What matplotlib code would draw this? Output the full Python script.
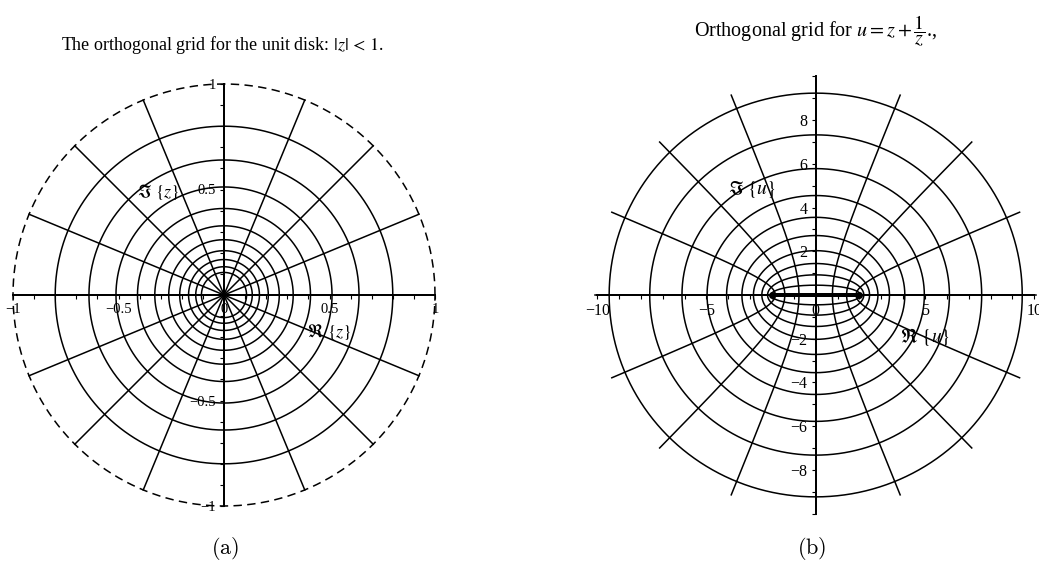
import numpy as np
import matplotlib
matplotlib.use("Agg")
import matplotlib.pyplot as plt
from matplotlib.ticker import FixedLocator, FixedFormatter, MultipleLocator

# Radii of the concentric circles |z| = r inside the unit disk
circle_radii = [0.8, 0.64, 0.512, 0.41, 0.328, 0.262, 0.21, 0.168, 0.134, 0.107]
# Directions of the rays arg z = theta (degrees)
ray_angles_deg = [0, 22.5, 45, 67.5, 90, 112.5, 135, 157.5,
                  180, 202.5, 225, 247.5, 270, 292.5, 315, 337.5]
ray_r_start_disk = 0.0
ray_r_start_image = 0.1
boundary_radius = 1.0

disk_xticks = [-1, -0.5, 0, 0.5, 1]
disk_xticklabels = ["\u22121", "\u22120.5", "0", "0.5", "1"]
disk_yticks = [-1, -0.5, 0.5, 1]
disk_yticklabels = ["\u22121", "\u22120.5", "0.5", "1"]

image_xticks = [-10, -5, 0, 5, 10]
image_xticklabels = ["\u221210", "\u22125", "0", "5", "10"]
image_yticks = [-8, -6, -4, -2, 2, 4, 6, 8]
image_yticklabels = ["\u22128", "\u22126", "\u22124", "\u22122", "2", "4", "6", "8"]

plt.rcParams["font.family"] = ["Liberation Serif", "DejaVu Serif"]
plt.rcParams["mathtext.fontset"] = "stix"

LW = 1.1
W, H = 1039, 568
fig = plt.figure(figsize=(W / 100, H / 100), dpi=100)


def joukowski(z):
    return z + 1.0 / z


def place_axes(cx, cy, scale, lim):
    """Axes centred at pixel (cx, cy from top) with `scale` pixels per unit."""
    size = 2 * lim * scale
    return fig.add_axes([(cx - size / 2) / W, (H - cy - size / 2) / H, size / W, size / H])


def style_axes(ax, lim, bound, xt, xtl, yt, ytl, minor, fs):
    ax.set_xlim(-lim, lim)
    ax.set_ylim(-lim, lim)
    ax.set_aspect("equal")
    for s in ("top", "right"):
        ax.spines[s].set_visible(False)
    for s in ("left", "bottom"):
        ax.spines[s].set_position(("data", 0))
        ax.spines[s].set_bounds(-bound, bound)
        ax.spines[s].set_linewidth(1.4)
        ax.spines[s].set_zorder(5)
    ax.xaxis.set_major_locator(FixedLocator(xt))
    ax.xaxis.set_major_formatter(FixedFormatter(xtl))
    ax.yaxis.set_major_locator(FixedLocator(yt))
    ax.yaxis.set_major_formatter(FixedFormatter(ytl))
    ax.xaxis.set_minor_locator(MultipleLocator(minor))
    ax.yaxis.set_minor_locator(MultipleLocator(minor))
    ax.tick_params(which="both", direction="out", length=3, width=0.8, labelsize=fs, pad=3)
    ax.patch.set_alpha(0)


t = np.linspace(0, 2 * np.pi, 721)

# ---- (a) the unit disk ----
axa = place_axes(224, 295, 211, 1.05)
style_axes(axa, 1.05, 1.0, disk_xticks, disk_xticklabels, disk_yticks, disk_yticklabels, 0.1, 10.5)
for r in circle_radii:
    axa.plot(r * np.cos(t), r * np.sin(t), color="black", lw=LW)
axa.plot(boundary_radius * np.cos(t), boundary_radius * np.sin(t), color="black",
         lw=LW, linestyle=(0, (5.5, 3.5)))
for a in ray_angles_deg:
    th = np.deg2rad(a)
    rr = np.array([ray_r_start_disk, boundary_radius])
    axa.plot(rr * np.cos(th), rr * np.sin(th), color="black", lw=LW)
axa.text(0.5, -0.175, r"$\Re\ \{z\}$", fontsize=13, ha="center", va="center")
axa.text(-0.31, 0.49, r"$\Im\ \{z\}$", fontsize=13, ha="center", va="center")

# ---- (b) image under u = z + 1/z ----
axb = place_axes(815.7, 295, 21.85, 10.2)
style_axes(axb, 10.2, 10.0, image_xticks, image_xticklabels, image_yticks, image_yticklabels, 1, 11.5)
for r in circle_radii:
    w = joukowski(r * np.exp(1j * t))
    axb.plot(w.real, w.imag, color="black", lw=LW)
for a in ray_angles_deg:
    th = np.deg2rad(a)
    rr = np.linspace(ray_r_start_image, boundary_radius, 400)
    w = joukowski(rr * np.exp(1j * th))
    axb.plot(w.real, w.imag, color="black", lw=LW)
# image of the unit circle: the slit [-2, 2]
wb = joukowski(boundary_radius * np.exp(1j * t))
axb.plot(wb.real, wb.imag, color="black", lw=2.6, zorder=6)
axb.plot([wb.real.min(), wb.real.max()], [0, 0], "o", color="black", ms=4, zorder=7)
axb.text(5.0, -1.9, r"$\Re\ \{u\}$", fontsize=14, ha="center", va="center")
axb.text(-2.9, 4.82, r"$\Im\ \{u\}$", fontsize=14, ha="center", va="center")

# ---- titles and captions ----
fig.text(222 / W, 1 - 45 / H, r"The orthogonal grid for the unit disk: $|z|\,<\,1$.",
         fontsize=13, ha="center", va="center")
fig.text(816 / W, 1 - 31 / H, r"Orthogonal grid for $u = z + \dfrac{1}{z}$.,",
         fontsize=14.5, ha="center", va="center")
fig.text(225 / W, 1 - 549 / H, r"$\mathrm{(a)}$", fontsize=16, ha="center", va="center",
         math_fontfamily="cm")
fig.text(812 / W, 1 - 549 / H, r"$\mathrm{(b)}$", fontsize=16, ha="center", va="center",
         math_fontfamily="cm")

fig.savefig("out.png", dpi=100)
